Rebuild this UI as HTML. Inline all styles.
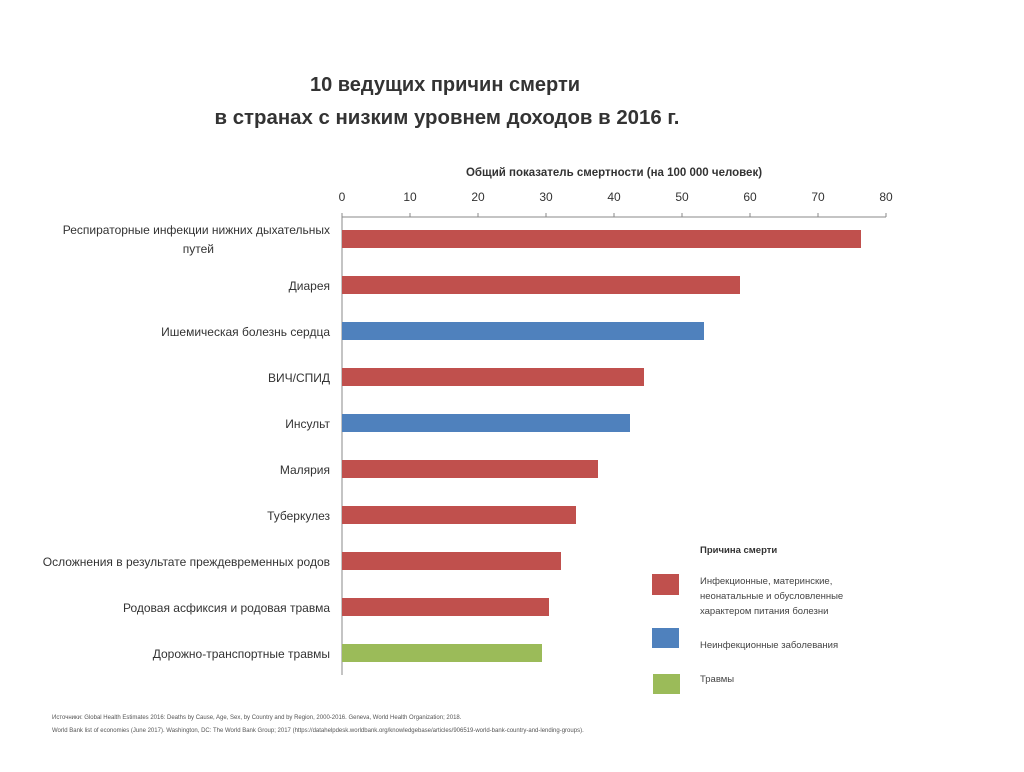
<!DOCTYPE html>
<html><head><meta charset="utf-8"><style>
body{margin:0;background:#fff;}
svg text{font-family:"Liberation Sans","DejaVu Sans",sans-serif;}
</style></head><body>
<svg width="1024" height="767" xmlns="http://www.w3.org/2000/svg">
<rect width="1024" height="767" fill="#fff"/>
<text x="445" y="91" font-size="20" font-weight="bold" text-anchor="middle" fill="#333">10 ведущих причин смерти</text>
<text x="447" y="124" font-size="20.4" font-weight="bold" text-anchor="middle" fill="#333">в странах с низким уровнем доходов в 2016 г.</text>
<text x="614" y="176" font-size="11.5" font-weight="bold" text-anchor="middle" fill="#333">Общий показатель смертности (на 100 000 человек)</text>
<g font-size="12" fill="#333" text-anchor="middle">
<text x="342" y="201">0</text><text x="410" y="201">10</text><text x="478" y="201">20</text><text x="546" y="201">30</text><text x="614" y="201">40</text><text x="682" y="201">50</text><text x="750" y="201">60</text><text x="818" y="201">70</text><text x="886" y="201">80</text>
</g>
<line x1="342" y1="217" x2="886" y2="217" stroke="#888" stroke-width="1"/>
<line x1="342" y1="213" x2="342" y2="675" stroke="#888" stroke-width="1"/>
<g stroke="#888"><line x1="410" y1="213" x2="410" y2="217"/><line x1="478" y1="213" x2="478" y2="217"/><line x1="546" y1="213" x2="546" y2="217"/><line x1="614" y1="213" x2="614" y2="217"/><line x1="682" y1="213" x2="682" y2="217"/><line x1="750" y1="213" x2="750" y2="217"/><line x1="818" y1="213" x2="818" y2="217"/><line x1="886" y1="213" x2="886" y2="217"/></g>
<g>
<rect x="342" y="230" width="519" height="18" fill="#c0504d"/>
<rect x="342" y="276" width="398" height="18" fill="#c0504d"/>
<rect x="342" y="322" width="362" height="18" fill="#4f81bd"/>
<rect x="342" y="368" width="302" height="18" fill="#c0504d"/>
<rect x="342" y="414" width="288" height="18" fill="#4f81bd"/>
<rect x="342" y="460" width="256" height="18" fill="#c0504d"/>
<rect x="342" y="506" width="234" height="18" fill="#c0504d"/>
<rect x="342" y="552" width="219" height="18" fill="#c0504d"/>
<rect x="342" y="598" width="207" height="18" fill="#c0504d"/>
<rect x="342" y="644" width="200" height="18" fill="#9bbb59"/>
</g>
<g font-size="12" fill="#333" text-anchor="end">
<text x="330" y="234">Респираторные инфекции нижних дыхательных</text>
<text x="214" y="253">путей</text>
<text x="330" y="290">Диарея</text>
<text x="330" y="336">Ишемическая болезнь сердца</text>
<text x="330" y="382">ВИЧ/СПИД</text>
<text x="330" y="428">Инсульт</text>
<text x="330" y="474">Малярия</text>
<text x="330" y="520">Туберкулез</text>
<text x="330" y="566">Осложнения в результате преждевременных родов</text>
<text x="330" y="612">Родовая асфиксия и родовая травма</text>
<text x="330" y="658">Дорожно-транспортные травмы</text>
</g>
<text x="700" y="553" font-size="9.5" font-weight="bold" fill="#333">Причина смерти</text>
<rect x="652" y="574" width="27" height="21" fill="#c0504d"/>
<rect x="652" y="628" width="27" height="20" fill="#4f81bd"/>
<rect x="653" y="674" width="27" height="20" fill="#9bbb59"/>
<g font-size="9.5" fill="#444">
<text x="700" y="584">Инфекционные, материнские,</text>
<text x="700" y="599">неонатальные и обусловленные</text>
<text x="700" y="614">характером питания болезни</text>
<text x="700" y="648">Неинфекционные заболевания</text>
<text x="700" y="682">Травмы</text>
</g>
<g font-size="6" fill="#555">
<text x="52" y="719">Источники: Global Health Estimates 2016: Deaths by Cause, Age, Sex, by Country and by Region, 2000-2016. Geneva, World Health Organization; 2018.</text>
<text x="52" y="732">World Bank list of economies (June 2017). Washington, DC: The World Bank Group; 2017 (https://datahelpdesk.worldbank.org/knowledgebase/articles/906519-world-bank-country-and-lending-groups).</text>
</g>
</svg>
</body></html>
